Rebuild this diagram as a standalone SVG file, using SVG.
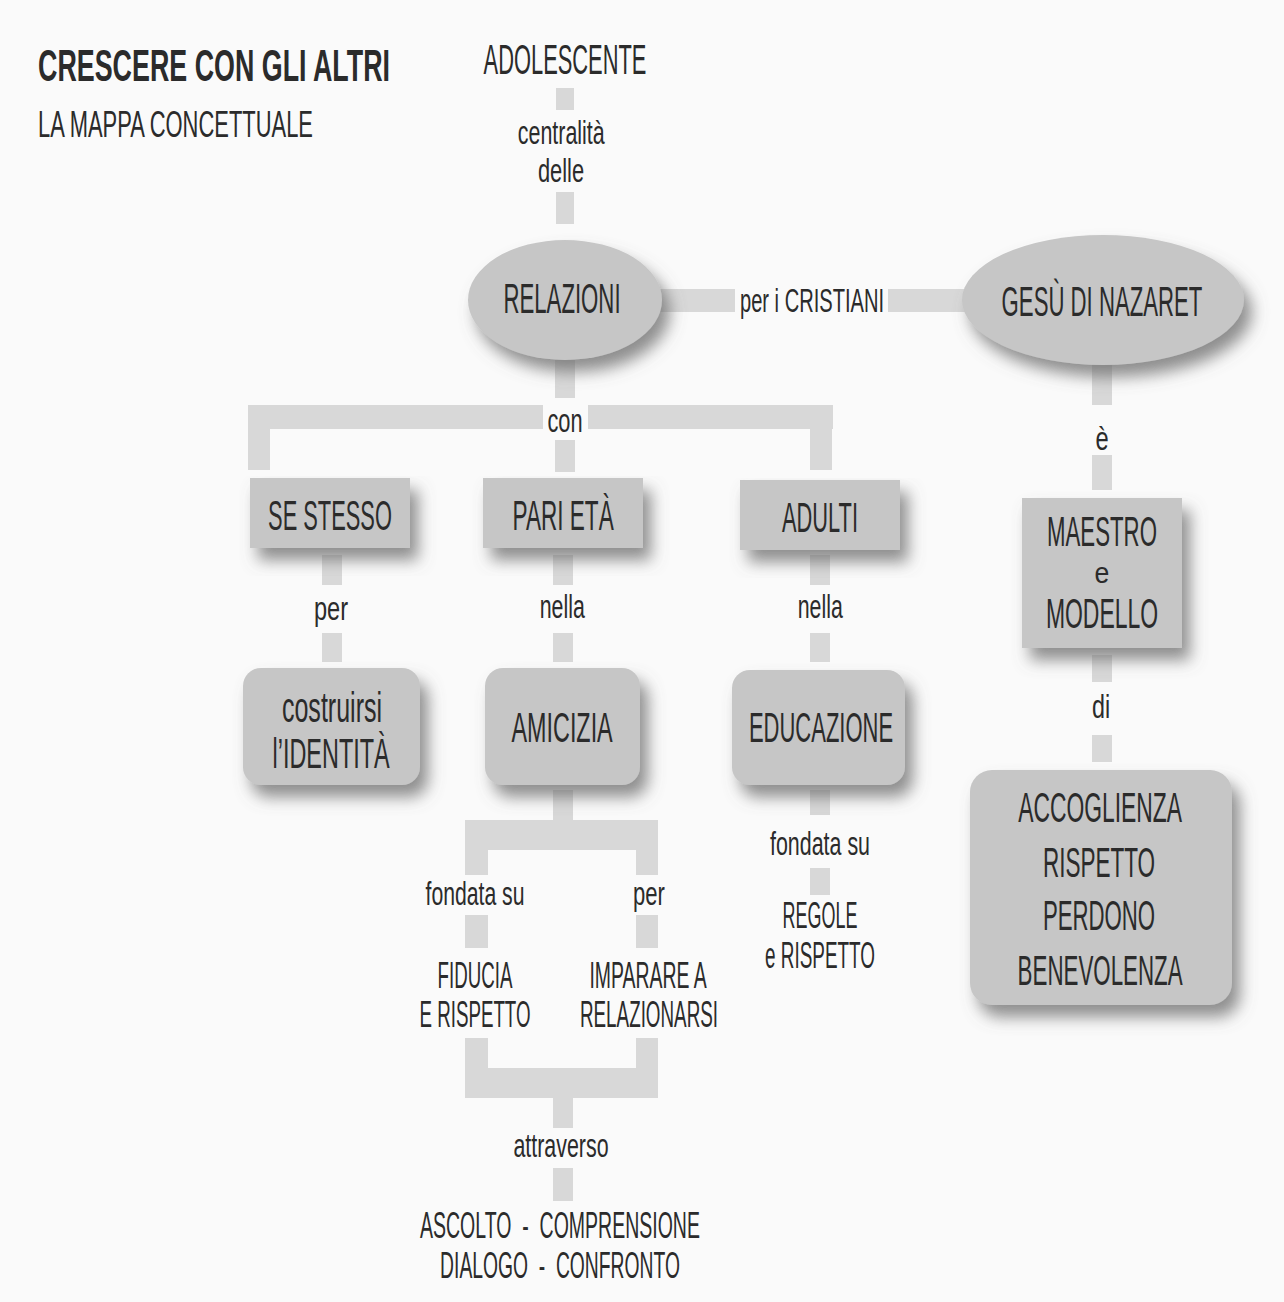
<svg xmlns="http://www.w3.org/2000/svg" width="1284" height="1302" viewBox="0 0 1284 1302">
<defs>
<style>
text{font-family:"Liberation Sans",Arial,sans-serif;fill:#2b2b2b;text-anchor:middle;transform-box:fill-box;transform-origin:center;transform:scaleX(0.55)}
text.l{text-anchor:start;transform-origin:left center}
.big{font-size:42px}
.mid{font-size:37px}
.sm{font-size:34px}
.node{fill:#c6c6c6}
.bar{fill:#d8d8d8}
</style>
<filter id="sh" x="-20%" y="-20%" width="150%" height="160%">
<feGaussianBlur in="SourceAlpha" stdDeviation="8" result="b"/>
<feOffset in="b" dx="8" dy="12" result="o"/>
<feFlood flood-color="#6a6a6a" flood-opacity="0.75"/>
<feComposite in2="o" operator="in" result="s"/>
<feMerge><feMergeNode in="s"/><feMergeNode in="SourceGraphic"/></feMerge>
</filter>
</defs>
<rect width="1284" height="1302" fill="#fafafa"/>
<g id="title">
<text class="l" x="38" y="81" style="font-size:44px;font-weight:bold" textLength="640" lengthAdjust="spacingAndGlyphs">CRESCERE CON GLI ALTRI</text>
<text class="l" x="38" y="137" style="font-size:37px" textLength="500" lengthAdjust="spacingAndGlyphs">LA MAPPA CONCETTUALE</text>
</g>
<g id="connectors">
<rect class="bar" x="556" y="88" width="18" height="22"/>
<rect class="bar" x="556" y="192" width="18" height="32"/>
<rect class="bar" x="655" y="289" width="80" height="23"/>
<rect class="bar" x="888" y="289" width="80" height="23"/>
<rect class="bar" x="555" y="360" width="20" height="38"/>
<rect class="bar" x="248" y="405" width="295" height="24"/>
<rect class="bar" x="588" y="405" width="245" height="24"/>
<rect class="bar" x="248" y="405" width="22" height="65"/>
<rect class="bar" x="810" y="405" width="22" height="65"/>
<rect class="bar" x="555" y="440" width="20" height="32"/>
<rect class="bar" x="322" y="555" width="20" height="30"/>
<rect class="bar" x="322" y="633" width="20" height="29"/>
<rect class="bar" x="553" y="555" width="20" height="30"/>
<rect class="bar" x="553" y="633" width="20" height="29"/>
<rect class="bar" x="810" y="555" width="20" height="30"/>
<rect class="bar" x="810" y="633" width="20" height="29"/>
<rect class="bar" x="553" y="790" width="20" height="32"/>
<rect class="bar" x="465" y="820" width="193" height="30"/>
<rect class="bar" x="465" y="820" width="23" height="55"/>
<rect class="bar" x="636" y="820" width="22" height="55"/>
<rect class="bar" x="465" y="915" width="23" height="33"/>
<rect class="bar" x="636" y="915" width="22" height="33"/>
<rect class="bar" x="465" y="1038" width="23" height="40"/>
<rect class="bar" x="636" y="1038" width="22" height="40"/>
<rect class="bar" x="465" y="1068" width="193" height="30"/>
<rect class="bar" x="553" y="1098" width="20" height="30"/>
<rect class="bar" x="553" y="1168" width="20" height="33"/>
<rect class="bar" x="810" y="790" width="20" height="25"/>
<rect class="bar" x="810" y="868" width="20" height="27"/>
<rect class="bar" x="1092" y="365" width="20" height="40"/>
<rect class="bar" x="1092" y="455" width="20" height="35"/>
<rect class="bar" x="1092" y="655" width="20" height="27"/>
<rect class="bar" x="1092" y="735" width="20" height="27"/>
</g>
<g id="labels">
<text class="sm" x="561" y="144" textLength="158" lengthAdjust="spacingAndGlyphs">centralità</text>
<text class="sm" x="561" y="182" textLength="84" lengthAdjust="spacingAndGlyphs">delle</text>
<text class="sm" x="812" y="312" textLength="262" lengthAdjust="spacingAndGlyphs">per i CRISTIANI</text>
<text class="sm" x="565" y="432" textLength="64" lengthAdjust="spacingAndGlyphs">con</text>
<text class="sm" x="1102" y="450" textLength="24" lengthAdjust="spacingAndGlyphs">è</text>
<text class="sm" x="331" y="620" textLength="62" lengthAdjust="spacingAndGlyphs">per</text>
<text class="sm" x="562" y="618" textLength="82" lengthAdjust="spacingAndGlyphs">nella</text>
<text class="sm" x="820" y="618" textLength="82" lengthAdjust="spacingAndGlyphs">nella</text>
<text class="sm" x="1101" y="718" textLength="33" lengthAdjust="spacingAndGlyphs">di</text>
<text class="sm" x="820" y="855" textLength="182" lengthAdjust="spacingAndGlyphs">fondata su</text>
<text class="sm" x="475" y="905" textLength="180" lengthAdjust="spacingAndGlyphs">fondata su</text>
<text class="sm" x="649" y="905" textLength="58" lengthAdjust="spacingAndGlyphs">per</text>
<text class="sm" x="561" y="1157" textLength="173" lengthAdjust="spacingAndGlyphs">attraverso</text>
</g>
<g id="n-adolescente">
<text class="big" x="565" y="74" textLength="296" lengthAdjust="spacingAndGlyphs">ADOLESCENTE</text>
</g>
<g id="n-relazioni">
<ellipse class="node" cx="565" cy="300" rx="97" ry="60" filter="url(#sh)"/>
<text class="big" x="562" y="313" textLength="213" lengthAdjust="spacingAndGlyphs">RELAZIONI</text>
</g>
<g id="n-gesu">
<ellipse class="node" cx="1103" cy="300" rx="141" ry="65" filter="url(#sh)"/>
<text class="big" x="1102" y="316" textLength="365" lengthAdjust="spacingAndGlyphs">GESÙ DI NAZARET</text>
</g>
<g id="n-sestesso">
<rect class="node" x="250" y="478" width="160" height="70" filter="url(#sh)"/>
<text class="big" x="330" y="530" textLength="225" lengthAdjust="spacingAndGlyphs">SE STESSO</text>
</g>
<g id="n-parieta">
<rect class="node" x="483" y="478" width="160" height="70" filter="url(#sh)"/>
<text class="big" x="563" y="530" textLength="184" lengthAdjust="spacingAndGlyphs">PARI ETÀ</text>
</g>
<g id="n-adulti">
<rect class="node" x="740" y="480" width="160" height="70" filter="url(#sh)"/>
<text class="big" x="820" y="532" textLength="138" lengthAdjust="spacingAndGlyphs">ADULTI</text>
</g>
<g id="n-identita">
<rect class="node" x="243" y="668" width="177" height="117" rx="18" filter="url(#sh)"/>
<text class="big" x="332" y="722" textLength="182" lengthAdjust="spacingAndGlyphs">costruirsi</text>
<text class="big" x="331" y="768" textLength="213" lengthAdjust="spacingAndGlyphs">l’IDENTITÀ</text>
</g>
<g id="n-amicizia">
<rect class="node" x="485" y="668" width="155" height="117" rx="18" filter="url(#sh)"/>
<text class="big" x="562" y="742" textLength="184" lengthAdjust="spacingAndGlyphs">AMICIZIA</text>
</g>
<g id="n-educazione">
<rect class="node" x="732" y="670" width="173" height="115" rx="18" filter="url(#sh)"/>
<text class="big" x="821" y="742" textLength="262" lengthAdjust="spacingAndGlyphs">EDUCAZIONE</text>
</g>
<g id="n-maestro">
<rect class="node" x="1022" y="498" width="160" height="150" filter="url(#sh)"/>
<text class="big" x="1102" y="546" textLength="200" lengthAdjust="spacingAndGlyphs">MAESTRO</text>
<text x="1102" y="583" style="font-size:29px" textLength="27" lengthAdjust="spacingAndGlyphs">e</text>
<text class="big" x="1102" y="628" textLength="204" lengthAdjust="spacingAndGlyphs">MODELLO</text>
</g>
<g id="n-accoglienza">
<rect class="node" x="970" y="770" width="262" height="235" rx="22" filter="url(#sh)"/>
<text class="big" x="1100" y="822" textLength="298" lengthAdjust="spacingAndGlyphs">ACCOGLIENZA</text>
<text class="big" x="1099" y="877" textLength="204" lengthAdjust="spacingAndGlyphs">RISPETTO</text>
<text class="big" x="1099" y="930" textLength="204" lengthAdjust="spacingAndGlyphs">PERDONO</text>
<text class="big" x="1100" y="985" textLength="300" lengthAdjust="spacingAndGlyphs">BENEVOLENZA</text>
</g>
<g id="n-regole">
<text class="mid" x="820" y="928" textLength="136" lengthAdjust="spacingAndGlyphs">REGOLE</text>
<text class="mid" x="820" y="968" textLength="200" lengthAdjust="spacingAndGlyphs">e RISPETTO</text>
</g>
<g id="n-fiducia">
<text class="mid" x="475" y="988" textLength="136" lengthAdjust="spacingAndGlyphs">FIDUCIA</text>
<text class="mid" x="475" y="1027" textLength="202" lengthAdjust="spacingAndGlyphs">E RISPETTO</text>
</g>
<g id="n-imparare">
<text class="mid" x="648" y="988" textLength="213" lengthAdjust="spacingAndGlyphs">IMPARARE A</text>
<text class="mid" x="649" y="1027" textLength="251" lengthAdjust="spacingAndGlyphs">RELAZIONARSI</text>
</g>
<g id="n-ascolto">
<text class="mid" x="560" y="1238" xml:space="preserve" textLength="509" lengthAdjust="spacingAndGlyphs">ASCOLTO  -  COMPRENSIONE</text>
<text class="mid" x="560" y="1278" xml:space="preserve" textLength="436" lengthAdjust="spacingAndGlyphs">DIALOGO  -  CONFRONTO</text>
</g>
</svg>
